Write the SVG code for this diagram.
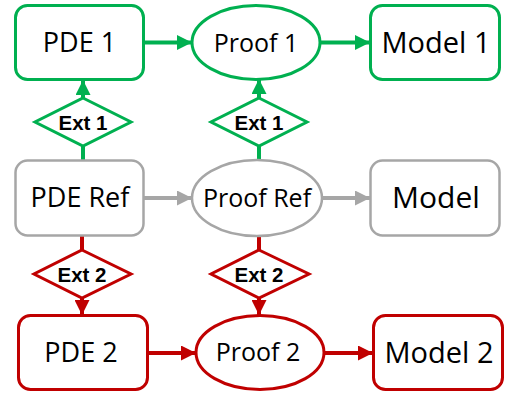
<svg xmlns="http://www.w3.org/2000/svg" width="505" height="397" viewBox="0 0 505 397">
<style>
.g{stroke:#00B050}
.k{stroke:#A6A6A6}
.r{stroke:#C00000}
.box{fill:#fff;stroke-width:3}
.kbox{fill:#fff;stroke-width:2.5}
.t{font-family:"Open Sans","Liberation Sans",sans-serif;fill:#000;text-anchor:middle}
.e{font-family:"Liberation Sans",sans-serif;font-weight:bold;font-size:20.5px;fill:#000;text-anchor:middle}
.ln{fill:none;stroke-width:4}
</style>
<defs>
<marker id="ag" markerUnits="userSpaceOnUse" viewBox="0 0 15 15" refX="15" refY="7.5" markerWidth="15" markerHeight="15" orient="auto"><path d="M0,0L15,7.5L0,15z" fill="#00B050"/></marker>
<marker id="ak" markerUnits="userSpaceOnUse" viewBox="0 0 15 15" refX="15" refY="7.5" markerWidth="15" markerHeight="15" orient="auto"><path d="M0,0L15,7.5L0,15z" fill="#A6A6A6"/></marker>
<marker id="ar" markerUnits="userSpaceOnUse" viewBox="0 0 15 15" refX="15" refY="7.5" markerWidth="15" markerHeight="15" orient="auto"><path d="M0,0L15,7.5L0,15z" fill="#C00000"/></marker>
</defs>
<g id="connectors">
<line class="ln g" x1="144" y1="42.5" x2="192" y2="42.5" marker-end="url(#ag)"/>
<line class="ln g" x1="320" y1="42.5" x2="370" y2="42.5" marker-end="url(#ag)"/>
<line class="ln g" x1="83" y1="98" x2="83" y2="80" marker-end="url(#ag)"/>
<line class="ln g" x1="259" y1="98" x2="259" y2="79" marker-end="url(#ag)"/>
<line class="ln g" x1="83" y1="146" x2="83" y2="160"/>
<line class="ln g" x1="259" y1="146" x2="259" y2="159"/>
<line class="ln k" x1="144" y1="198" x2="192" y2="198" marker-end="url(#ak)"/>
<line class="ln k" x1="322" y1="198" x2="370" y2="198" marker-end="url(#ak)"/>
<line class="ln r" x1="82" y1="236" x2="82" y2="250"/>
<line class="ln r" x1="259" y1="236" x2="259" y2="250"/>
<line class="ln r" x1="82" y1="298" x2="82" y2="315" marker-end="url(#ar)"/>
<line class="ln r" x1="259" y1="298" x2="259" y2="315" marker-end="url(#ar)"/>
<line class="ln r" x1="148" y1="353" x2="196" y2="353" marker-end="url(#ar)"/>
<line class="ln r" x1="325" y1="353" x2="373" y2="353" marker-end="url(#ar)"/>
</g>
<g id="pde1"><rect class="box g" x="15.5" y="5.5" width="128" height="74" rx="12"/><text class="t" x="79.5" y="52" font-size="27">PDE 1</text></g>
<g id="proof1"><ellipse class="box g" cx="256" cy="42.5" rx="64" ry="37"/><text class="t" x="256" y="51.5" font-size="25">Proof 1</text></g>
<g id="model1"><rect class="box g" x="370.5" y="5.5" width="129" height="74" rx="12"/><text class="t" x="436" y="53" font-size="29">Model 1</text></g>
<g id="ext1a"><polygon class="box g" points="83,98 131,122 83,146 35,122"/><text class="e" x="83" y="129.5">Ext 1</text></g>
<g id="ext1b"><polygon class="box g" points="259,98 307,122 259,146 211,122"/><text class="e" x="259" y="129.5">Ext 1</text></g>
<g id="pderef"><rect class="kbox k" x="15.5" y="160.5" width="128" height="75" rx="12"/><text class="t" x="80" y="207" font-size="27">PDE Ref</text></g>
<g id="proofref"><ellipse class="kbox k" cx="257" cy="198" rx="65" ry="38"/><text class="t" x="257" y="206.5" font-size="25">Proof Ref</text></g>
<g id="model"><rect class="kbox k" x="370.5" y="160.5" width="129" height="75" rx="12"/><text class="t" x="436" y="208" font-size="30">Model</text></g>
<g id="ext2a"><polygon class="box r" points="82,250 131,274 82,298 34,274"/><text class="e" x="82" y="281.5">Ext 2</text></g>
<g id="ext2b"><polygon class="box r" points="259,250 309,274 259,298 211,274"/><text class="e" x="259" y="281.5">Ext 2</text></g>
<g id="pde2"><rect class="box r" x="18.5" y="315.5" width="129" height="74" rx="12"/><text class="t" x="81" y="362" font-size="27">PDE 2</text></g>
<g id="proof2"><ellipse class="box r" cx="260" cy="352.5" rx="64" ry="37"/><text class="t" x="258" y="361" font-size="25">Proof 2</text></g>
<g id="model2"><rect class="box r" x="373.5" y="315.5" width="129" height="74" rx="12"/><text class="t" x="439" y="363" font-size="29">Model 2</text></g>
</svg>
